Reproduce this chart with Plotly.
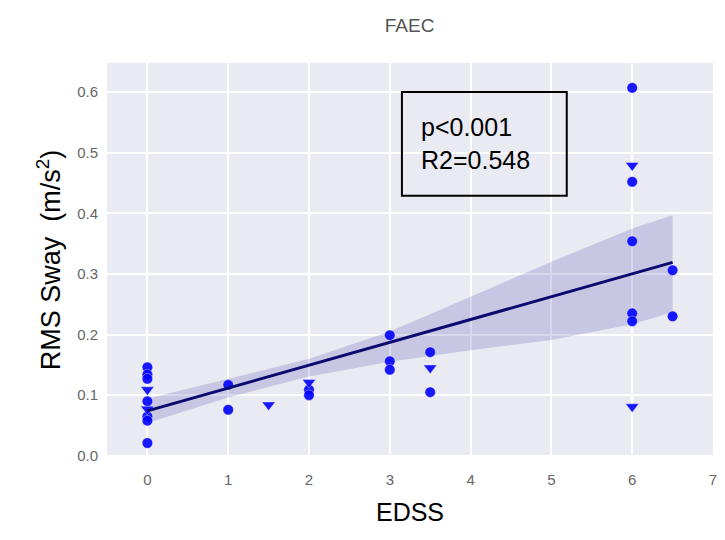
import plotly.graph_objects as go

# Data
circle_x = [0, 0, 0, 0, 0, 0, 0, 1, 1, 2, 2, 3, 3, 3, 3.5, 3.5, 6, 6, 6, 6, 6, 6.5, 6.5]
circle_y = [0.146, 0.134, 0.127, 0.090, 0.065, 0.058, 0.021, 0.117, 0.076, 0.109, 0.100,
            0.199, 0.156, 0.142, 0.171, 0.105, 0.607, 0.452, 0.354, 0.235, 0.222, 0.306, 0.230]
tri_x = [0, 0, 1.5, 2, 3.5, 6, 6]
tri_y = [0.109, 0.077, 0.084, 0.121, 0.145, 0.479, 0.081]

fit_x = [0, 6.5]
fit_y = [0.074, 0.319]

band_x = [0, 1, 2, 3, 4, 5, 6, 6.5]
band_lo = [0.054, 0.096, 0.131, 0.155, 0.174, 0.191, 0.217, 0.237]
band_hi = [0.094, 0.127, 0.160, 0.205, 0.263, 0.320, 0.375, 0.397]

x_ticks = [0, 1, 2, 3, 4, 5, 6, 7]
y_ticks = [0.0, 0.1, 0.2, 0.3, 0.4, 0.5, 0.6]

stat_lines = ["p<0.001", "R2=0.548"]

fig = go.Figure()

fig.add_trace(go.Scatter(x=band_x + band_x[::-1], y=band_hi + band_lo[::-1],
                         fill="toself", fillcolor="rgba(60,60,170,0.20)",
                         line=dict(width=0), mode="lines", hoverinfo="skip", showlegend=False))
fig.add_trace(go.Scatter(x=circle_x, y=circle_y, mode="markers",
                         marker=dict(symbol="circle", size=10.5, color="rgba(0,0,255,0.9)",
                                     line=dict(color="rgba(255,255,255,0.6)", width=0.6)),
                         showlegend=False))
fig.add_trace(go.Scatter(x=tri_x, y=tri_y, mode="markers",
                         marker=dict(symbol="triangle-down", size=11.5, color="rgba(0,0,255,0.9)",
                                     line=dict(color="rgba(255,255,255,0.6)", width=0.6)),
                         showlegend=False))
fig.add_trace(go.Scatter(x=fit_x, y=fit_y, mode="lines",
                         line=dict(color="#0a0a70", width=3), showlegend=False))

fig.add_shape(type="rect", xref="x", yref="y", x0=3.15, x1=5.19, y0=0.429, y1=0.600,
              line=dict(color="black", width=2), fillcolor="rgba(0,0,0,0)")
fig.add_annotation(x=3.36, y=0.515, xref="x", yref="y", xanchor="left", yanchor="middle",
                   text="<br>".join(stat_lines), showarrow=False, align="left",
                   font=dict(family="Liberation Sans, Arial", size=25, color="black"))

fig.update_layout(
    width=725, height=540,
    margin=dict(l=107, r=8, t=63, b=83),
    paper_bgcolor="white", plot_bgcolor="#EAEAF2",
    title=dict(text="FAEC", x=0.565, xanchor="center", y=0.953, yanchor="middle",
               font=dict(family="Liberation Sans, Arial", size=19, color="#555555")),
    font=dict(family="Liberation Sans, Arial"),
)
fig.update_xaxes(range=[-0.5, 7.0], tickvals=x_ticks, ticktext=[str(v) for v in x_ticks],
                 gridcolor="white", gridwidth=1.5, zeroline=False, showline=False,
                 tickfont=dict(size=15, color="#666666"), ticks="", ticklabelstandoff=12,
                 title=dict(text="EDSS", font=dict(size=25, color="black"), standoff=16))
fig.update_yaxes(range=[-0.002, 0.648], tickvals=y_ticks, ticktext=[f"{v:.1f}" for v in y_ticks],
                 gridcolor="white", gridwidth=1.5, zeroline=False, showline=False,
                 tickfont=dict(size=15, color="#666666"), ticks="", ticklabelstandoff=8,
                 title=dict(text="RMS Sway  (m/s<sup>2</sup>)", font=dict(size=27, color="black"),
                            standoff=8))

fig.write_html("out.html")
